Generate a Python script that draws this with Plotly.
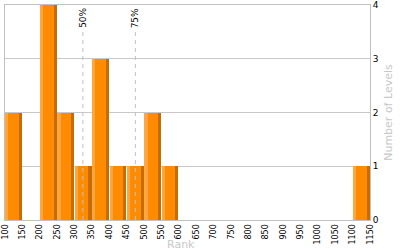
import plotly.graph_objects as go

bin_starts = [100, 150, 200, 250, 300, 350, 400, 450, 500, 550, 1100]
counts = [2, 0, 4, 2, 1, 3, 1, 1, 2, 1, 1]
x_ticks = list(range(100, 1151, 50))
y_ticks = [0, 1, 2, 3, 4]
pct_labels = ["50%", "75%"]
pct_values = [324, 475]

fig = go.Figure()

# percentile dashed lines (drawn behind bars)
for lab, v in zip(pct_labels, pct_values):
    fig.add_trace(go.Scatter(x=[v, v], y=[0, 3.55], mode="lines",
                             line=dict(color="#C0C0C0", width=1, dash="4px,4px"),
                             hoverinfo="skip", showlegend=False))
    fig.add_annotation(x=v, y=4, xref="x", yref="y", text=lab, textangle=-90,
                       showarrow=False, xanchor="center", yanchor="top",
                       yshift=-1, font=dict(family="DejaVu Sans", size=9, color="#000000"))

# main body
fig.add_trace(go.Bar(x=bin_starts, y=counts, width=48, offset=1,
                     marker=dict(color="#FF8C00", line=dict(width=0)),
                     hoverinfo="skip", showlegend=False))
# light left edge
fig.add_trace(go.Bar(x=bin_starts, y=counts, width=9, offset=1,
                     marker=dict(color="#FFA641", line=dict(width=0)),
                     hoverinfo="skip", showlegend=False))
# dark right edge
fig.add_trace(go.Bar(x=bin_starts, y=counts, width=9, offset=40,
                     marker=dict(color="#C86B00", line=dict(width=0)),
                     hoverinfo="skip", showlegend=False))

fig.add_annotation(x=(181 - 5) / 365, y=-(244 - 220) / 215, xref="paper", yref="paper",
                   text="Rank", showarrow=False, xanchor="center", yanchor="middle",
                   font=dict(family="DejaVu Sans", size=11, color="#C8C8C8"))

fig.update_layout(
    width=400, height=250,
    margin=dict(l=5, r=30, t=5, b=30),
    paper_bgcolor="white", plot_bgcolor="white",
    barmode="overlay", bargap=0,
    xaxis=dict(range=[100, 1150], tickvals=x_ticks, ticktext=[str(t) for t in x_ticks],
               tickangle=-90, showgrid=False, zeroline=False, automargin=False,
               ticklabeloverflow="allow",
               showline=True, linecolor="#C0C0C0", linewidth=1, mirror=True,
               ticks="", ticklen=0,
               tickfont=dict(family="DejaVu Sans", size=8, color="#000000")),
    yaxis=dict(range=[0, 4], tickvals=y_ticks, side="right", automargin=False,
               ticklabeloverflow="allow",
               showgrid=True, gridcolor="#C8C8C8", gridwidth=1, zeroline=False,
               showline=True, linecolor="#C0C0C0", linewidth=1, mirror=True,
               ticks="", ticklen=0,
               tickfont=dict(family="DejaVu Sans", size=9, color="#000000"),
               title=dict(text="Number of Levels", standoff=6,
                          font=dict(family="DejaVu Sans", size=11, color="#C8C8C8"))),
)

fig.write_html("out.html")
